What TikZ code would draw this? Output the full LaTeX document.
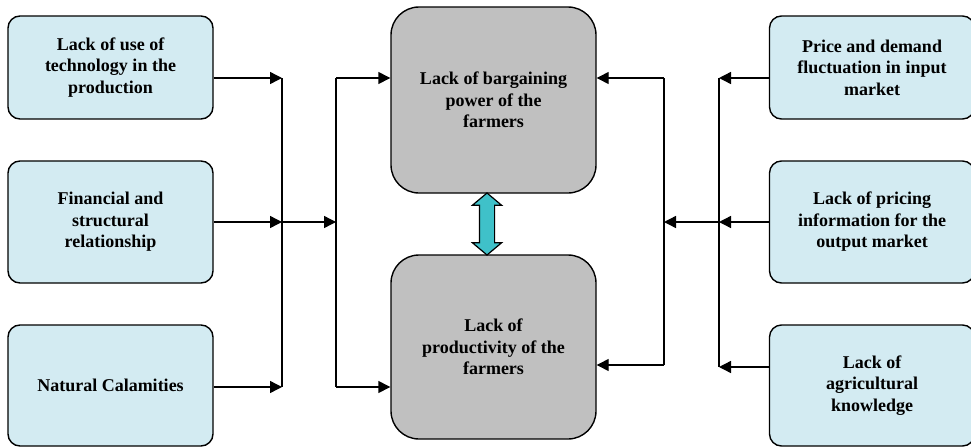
\documentclass[tikz,border=0pt]{standalone}
\usepackage{fontspec}
\setmainfont{Liberation Serif}
\usetikzlibrary{arrows.meta,shapes.arrows}
\usepackage{xcolor}
\definecolor{causeblue}{HTML}{D3EBF2}
\definecolor{issuegray}{HTML}{C0C0C0}
\definecolor{linkteal}{HTML}{3FC1C9}

\begin{document}
\begin{tikzpicture}[
      x=1pt, y=-1pt,
      every node/.style={font=\bfseries\fontsize{18}{21.5}\selectfont},
      cause/.style={
        rounded corners=12pt,
        draw=black,
        fill=causeblue,
        line width=1.4pt,
        minimum width=205pt,
        align=center
      },
      issue/.style={
        rounded corners=28pt,
        draw=black,
        fill=issuegray,
        line width=1.4pt,
        minimum width=205pt,
        minimum height=185pt,
        align=center
      },
      arrow/.style={-{Triangle[length=12pt,width=12pt]}, line width=1.4pt, draw=black},
      busline/.style={line width=1.4pt, draw=black}
    ]
      \useasboundingbox (0,0) rectangle (971,447);
      % causes on the left
      \node[cause, minimum height=103pt] (l1) at (110.5,67.5) {Lack of use of\\technology in the\\production};
      \node[cause, minimum height=122pt] (l2) at (110.5,222) {Financial and\\structural\\relationship};
      \node[cause, minimum height=121pt] (l3) at (110.5,385.5) {Natural Calamities};
      % causes on the right
      \node[cause, minimum height=103pt] (r1) at (872,67.5) {Price and demand\\fluctuation in input\\market};
      \node[cause, minimum height=122pt] (r2) at (872,222) {Lack of pricing\\information for the\\output market};
      \node[cause, minimum height=121pt] (r3) at (872,385.5) {Lack of\\agricultural\\knowledge};
      % the two problems
      \node[issue, minimum height=186pt] (bp) at (493.5,100) {Lack of bargaining\\power of the\\farmers};
      \node[issue, minimum height=184pt] (pr) at (493.5,347) {Lack of\\productivity of the\\farmers};
      \node[double arrow, rotate=90, draw=black, fill=linkteal, line width=1.2pt,
            minimum height=62pt, minimum width=28pt, inner xsep=0pt, inner ysep=7pt,
            double arrow head extend=7pt, double arrow tip angle=100]
            (link) at (487,224) {};
      % junctions
      \coordinate (la) at (282,78);
      \coordinate (lb) at (282,222);
      \coordinate (lc) at (282,387);
      \coordinate (ma) at (336,78);
      \coordinate (mb) at (336,222);
      \coordinate (mc) at (336,387);
      \coordinate (ra) at (719,78);
      \coordinate (rb) at (719,222);
      \coordinate (rc) at (719,367);
      \coordinate (na) at (664,78);
      \coordinate (nb) at (664,222);
      \coordinate (nc) at (664,365);
      % left side
      \draw[arrow] (l1.east |- la) -- (la);
      \draw[arrow] (l2.east |- lb) -- (lb);
      \draw[arrow] (l3.east |- lc) -- (lc);
      \draw[busline] (la) -- (lc);
      \draw[arrow] (lb) -- (mb);
      \draw[busline] (ma) -- (mc);
      \draw[arrow] (ma) -- (bp.west |- ma);
      \draw[arrow] (mc) -- (pr.west |- mc);
      % right side
      \draw[arrow] (r1.west |- ra) -- (ra);
      \draw[arrow] (r2.west |- rb) -- (rb);
      \draw[arrow] (r3.west |- rc) -- (rc);
      \draw[busline] (ra) -- (rc);
      \draw[arrow] (rb) -- (nb);
      \draw[busline] (na) -- (nc);
      \draw[arrow] (na) -- (bp.east |- na);
      \draw[arrow] (nc) -- (pr.east |- nc);
    \end{tikzpicture}
\end{document}
